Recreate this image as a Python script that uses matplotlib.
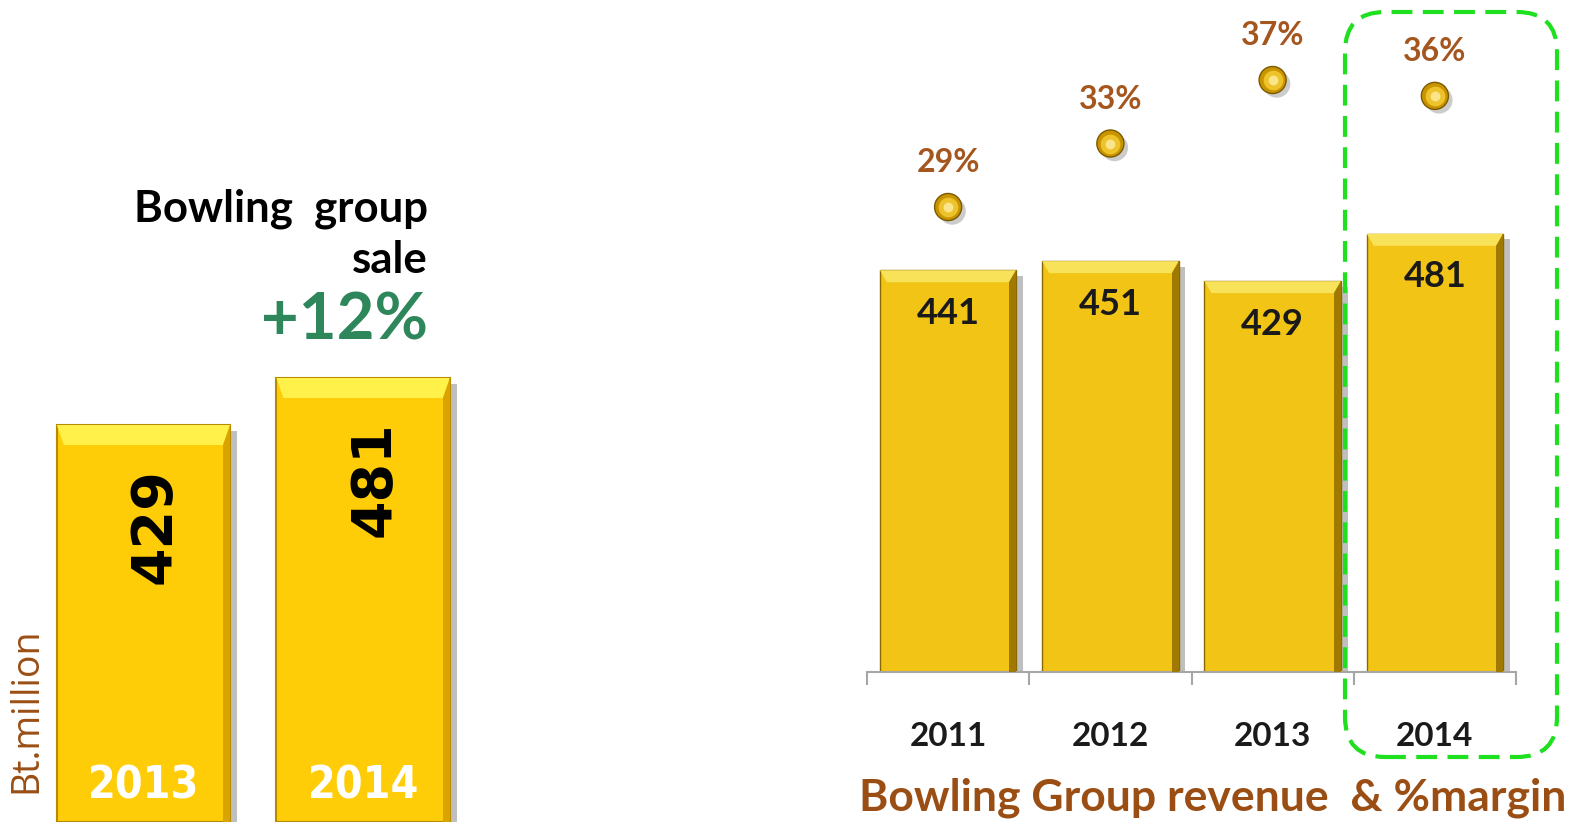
import numpy as np
import matplotlib
matplotlib.use('Agg')
import matplotlib.pyplot as plt
import matplotlib.patheffects as pe
from matplotlib.patches import FancyBboxPatch, Polygon

# datos
left_years = ['2013', '2014']
left_sales = [429, 481]
years = ['2011', '2012', '2013', '2014']
revenue = [441, 451, 429, 481]
margin = [29, 33, 37, 36]

brown = '#9A4E14'
fnt = ['Lato', 'DejaVu Sans']

fig = plt.figure(figsize=(15.73, 8.22), dpi=100)
fig.patch.set_facecolor('white')


def px(ax, dx, dy):
    inv = ax.transData.inverted()
    p0 = inv.transform((0, 0))
    p1 = inv.transform((dx, dy))
    return p1 - p0


def bevel(ax, bar, top_px, side_px, light, dark):
    x, y, w, h = bar.get_x(), bar.get_y(), bar.get_width(), bar.get_height()
    sw, th = px(ax, side_px, top_px)
    top = y + h
    ax.add_patch(Polygon([(x, top), (x + w, top), (x + w - sw, top - th), (x + sw, top - th)],
                         closed=True, color=light, lw=0, zorder=3))
    ax.add_patch(Polygon([(x + w, top), (x + w, y), (x + w - sw, y), (x + w - sw, top - th)],
                         closed=True, color=dark, lw=0, zorder=3))


shadow = [pe.SimplePatchShadow(offset=(5, -4), shadow_rgbFace='0.45', alpha=0.45), pe.Normal()]

# ---- grafico izquierdo ----
axl = fig.add_axes([0, 0, 470 / 1573, 1])
axl.set_xlim(-0.654, 1.487)
base = -10
axl.set_ylim(base, 899)
axl.axis('off')
xl = np.arange(len(left_years))
bars_l = axl.bar(xl, np.array(left_sales) - base, bottom=base, width=0.79,
                 color='#FFCC08', edgecolor='#B88A00', lw=1.5, zorder=2)
for b in bars_l:
    b.set_path_effects(shadow)
    bevel(axl, b, 20, 7, '#FFF04A', '#D9A400')
for i, v in enumerate(left_sales):
    axl.annotate(str(v), (xl[i], v), xytext=(8, -31), textcoords='offset points',
                 rotation=90, ha='center', va='top', fontsize=40, fontweight='bold',
                 family='DejaVu Sans', color='black', zorder=5)
    axl.text(xl[i], 0.044, left_years[i], transform=axl.get_xaxis_transform(),
             ha='center', va='center', fontsize=32, fontweight='bold', color='white',
             family='DejaVu Sans', fontstretch='condensed', zorder=5)

fig.text(0.0165, 0.136, 'Bt.million', rotation=90, ha='center', va='center',
         fontsize=27, color=brown, family=['Open Sans', 'DejaVu Sans'])
fig.text(0.2721, 0.730, 'Bowling  group', ha='right', va='baseline', fontsize=31.5,
         fontweight='bold', family=fnt, color='black')
fig.text(0.2721, 0.668, 'sale', ha='right', va='baseline', fontsize=31.5,
         fontweight='bold', family=fnt, color='black')
fig.text(0.2721, 0.5864, '+12%', ha='right', va='baseline', fontsize=47,
         fontweight='bold', family=fnt, color='#2E875A')

# ---- grafico derecho ----
axr = fig.add_axes([867 / 1573, 150 / 822, 649 / 1573, 672 / 822])
axr.set_xlim(-0.5, 3.5)
axr.set_ylim(0, 737.6)
x = np.arange(len(years))
bars = axr.bar(x, revenue, width=0.84, color='#F2C415', edgecolor='#8A6A00', lw=1, zorder=2)
for b in bars:
    b.set_path_effects(shadow)
    bevel(axr, b, 12, 7, '#F8E25A', '#A07A00')
for i, v in enumerate(revenue):
    axr.annotate(str(v), (x[i], v), xytext=(0, -31), textcoords='offset points',
                 ha='center', va='center', fontsize=26, fontweight='bold', family=fnt,
                 color='#1A1A1A', zorder=5)

for s in ['top', 'right', 'left']:
    axr.spines[s].set_visible(False)
axr.spines['bottom'].set_color('#A6A6A6')
axr.spines['bottom'].set_linewidth(1.5)
axr.set_yticks([])
axr.set_xticks(x)
axr.set_xticklabels(years, fontsize=24, fontweight='bold', family=fnt, color='#1A1A1A')
axr.tick_params(axis='x', which='major', length=0, pad=36)
axr.set_xticks(np.arange(-0.5, 4, 1), minor=True)
axr.tick_params(axis='x', which='minor', length=9, width=1.5, color='#A6A6A6', direction='out')

ax2 = axr.twinx()
ax2.set_ylim(-0.29, 42.04)
ax2.axis('off')
ax2.scatter(x, margin, s=380, color='#C89400', edgecolor='#7A5A00', lw=1, zorder=3,
            path_effects=[pe.SimplePatchShadow(offset=(3, -3), shadow_rgbFace='0.5', alpha=0.4), pe.Normal()])
ax2.scatter(x, margin, s=200, color='#EDC22A', lw=0, zorder=4)
ax2.scatter(x, margin, s=50, color='#FBE58A', lw=0, zorder=5)
for i, m in enumerate(margin):
    ax2.annotate(f'{m}%', (x[i], m), xytext=(0, 32), textcoords='offset points',
                 ha='center', va='center', fontsize=23, fontweight='bold', family=fnt,
                 color='#A5561F')

fig.text(0.771, 0.030, 'Bowling Group revenue  & %margin', ha='center', va='center',
         fontsize=32, fontweight='bold', family=fnt, color=brown)

# caja verde punteada
box = FancyBboxPatch((13.45, 0.65), 2.12, 7.45, boxstyle='round,pad=0,rounding_size=0.4',
                     transform=fig.dpi_scale_trans, fill=False, edgecolor='#1EE01E',
                     lw=3, linestyle=(0, (5, 2.5)), zorder=10)
fig.patches.append(box)

plt.savefig('out.png', dpi=100)
